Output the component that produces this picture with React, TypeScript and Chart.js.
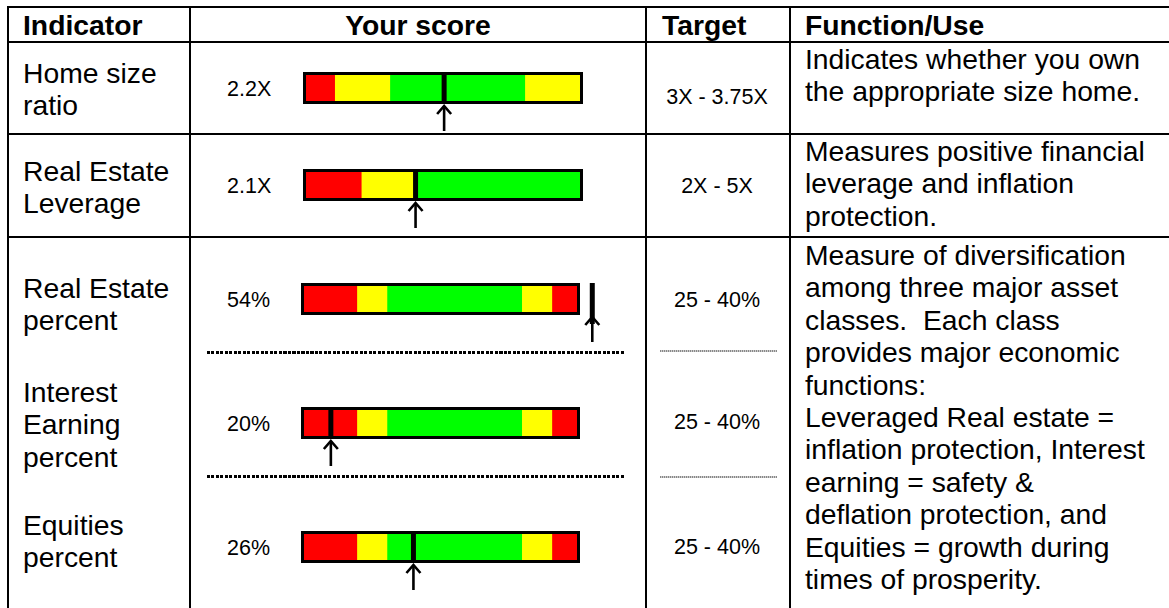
import React, { useEffect, useRef } from "react";
import { Chart, registerables } from "chart.js";

Chart.register(...registerables);

// ---------- data ----------
const headers = ["Indicator", "Your score", "Target", "Function/Use"];
const indicatorLines = [
  ["Home size", "ratio"],
  ["Real Estate", "Leverage"],
  ["Real Estate", "percent"],
  ["Interest", "Earning", "percent"],
  ["Equities", "percent"],
];
const scoreLabels = ["2.2X", "2.1X", "54%", "20%", "26%"];
// marker position along each gauge, in percent of the gauge length
const scorePositions = [50.4, 40.2, 104.4, 10.7, 40.3];
const targetLabels = ["3X - 3.75X", "2X - 5X", "25 - 40%", "25 - 40%", "25 - 40%"];
// zone widths along each gauge (percent of gauge length)
const zoneWidths = [
  [11.3, 19.7, 48.2, 20.8],
  [20.8, 19.1, 60.1],
  [20, 10.8, 48.3, 10.8, 10.1],
  [20, 10.8, 48.3, 10.8, 10.1],
  [20, 10.8, 48.3, 10.8, 10.1],
];
const zoneKinds = [
  ["red", "yellow", "green", "yellow"],
  ["red", "yellow", "green"],
  ["red", "yellow", "green", "yellow", "red"],
  ["red", "yellow", "green", "yellow", "red"],
  ["red", "yellow", "green", "yellow", "red"],
];
const functionTexts = [
  ["Indicates whether you own", "the appropriate size home."],
  ["Measures positive financial", "leverage and inflation", "protection."],
  [
    "Measure of diversification",
    "among three major asset",
    "classes.  Each class",
    "provides major economic",
    "functions:",
    "Leveraged Real estate =",
    "inflation protection, Interest",
    "earning = safety &",
    "deflation protection, and",
    "Equities = growth during",
    "times of prosperity.",
  ],
];

// ---------- styles / layout ----------
const zoneColors: Record<string, string> = { red: "#FF0000", yellow: "#FFFF00", green: "#00FF00" };
const FONT = '"Liberation Sans", Arial, Helvetica, sans-serif';
const BIG = 28.3;
const SMALL = 21.5;
const LH = 32.4;

const gaugeTops = [72, 169, 283, 407, 531];
const gaugeLefts = [303, 303, 301, 301, 301];
const gaugeWidths = [280, 280, 279, 279, 279];
const GAUGE_H = 32;
const CANVAS_LEFT = 290;
const CANVAS_W = 340;
const PAD_TOP = 4;
const PAD_BOTTOM = 36;

const scoreBaselines = [97, 194, 308, 432, 556];
const targetBaselines = [105, 194, 308, 430, 555];
const indicatorBaselines = [83, 181, 298, 402, 535];
const functionBaselines = [69, 161, 265];

function T(props: { x: number; y: number; size: number; bold?: boolean; center?: boolean; text: string }) {
  const { x, y, size, bold, center, text } = props;
  return (
    <div
      style={{
        position: "absolute",
        left: x,
        top: y - 0.8465 * size,
        fontSize: size,
        lineHeight: `${size}px`,
        fontWeight: bold ? 700 : 400,
        fontFamily: FONT,
        whiteSpace: "pre",
        color: "#000",
        transform: center ? "translateX(-50%)" : undefined,
      }}
    >
      {text}
    </div>
  );
}

function markerPlugin(idx: number) {
  return {
    id: "marker" + idx,
    afterDatasetsDraw(chart: any) {
      const { ctx, chartArea, scales } = chart;
      const { top, bottom } = chartArea;
      const x = scales.x;
      const x0 = x.getPixelForValue(0);
      const x1 = x.getPixelForValue(100);
      ctx.save();
      ctx.strokeStyle = "#000";
      ctx.lineWidth = 3;
      ctx.strokeRect(x0 + 1.5, top + 1.5, x1 - x0 - 3, bottom - top - 3);
      const v = scorePositions[idx];
      const mx = x.getPixelForValue(v);
      ctx.lineWidth = 5;
      ctx.beginPath();
      ctx.moveTo(mx, top);
      ctx.lineTo(mx, v > 100 ? bottom + 9 : bottom);
      ctx.stroke();
      ctx.lineWidth = 2.6;
      ctx.beginPath();
      ctx.moveTo(mx, bottom + 2);
      ctx.lineTo(mx, bottom + 27);
      ctx.stroke();
      ctx.lineJoin = "miter";
      ctx.beginPath();
      ctx.moveTo(mx - 7, bottom + 10);
      ctx.lineTo(mx, bottom + 2);
      ctx.lineTo(mx + 7, bottom + 10);
      ctx.stroke();
      ctx.restore();
    },
  };
}

function Gauge({ idx }: { idx: number }) {
  const ref = useRef<HTMLCanvasElement | null>(null);
  useEffect(() => {
    if (!ref.current) return;
    const chart = new Chart(ref.current, {
      type: "bar",
      data: {
        labels: [scoreLabels[idx]],
        datasets: zoneWidths[idx].map((w, i) => ({
          label: zoneKinds[idx][i],
          data: [w],
          backgroundColor: zoneColors[zoneKinds[idx][i]],
          borderWidth: 0,
          barPercentage: 1,
          categoryPercentage: 1,
        })),
      },
      options: {
        indexAxis: "y",
        responsive: false,
        animation: false,
        devicePixelRatio: 1,
        events: [],
        layout: {
          padding: {
            left: gaugeLefts[idx] - CANVAS_LEFT,
            right: CANVAS_LEFT + CANVAS_W - gaugeLefts[idx] - gaugeWidths[idx],
            top: PAD_TOP,
            bottom: PAD_BOTTOM,
          },
        },
        scales: {
          x: { type: "linear", min: 0, max: 100, stacked: true, display: false },
          y: { stacked: true, display: false },
        },
        plugins: { legend: { display: false }, tooltip: { enabled: false } },
      } as any,
      plugins: [markerPlugin(idx)],
    });
    return () => chart.destroy();
  }, [idx]);
  return (
    <canvas
      ref={ref}
      width={CANVAS_W}
      height={GAUGE_H + PAD_TOP + PAD_BOTTOM}
      style={{
        position: "absolute",
        left: CANVAS_LEFT,
        top: gaugeTops[idx] - PAD_TOP,
        width: CANVAS_W,
        height: GAUGE_H + PAD_TOP + PAD_BOTTOM,
      }}
    />
  );
}

const hLines = [6, 41, 133, 236];
const vLines = [7, 189, 645, 789];

export default function App() {
  return (
    <div
      style={{
        position: "absolute",
        left: 0,
        top: 0,
        width: 1169,
        height: 608,
        overflow: "hidden",
        background: "#fff",
        fontFamily: FONT,
      }}
    >
      {hLines.map((y, i) => (
        <div key={"h" + i} style={{ position: "absolute", left: 7, top: y, width: 1162, height: 2, background: "#000" }} />
      ))}
      {vLines.map((x, i) => (
        <div key={"v" + i} style={{ position: "absolute", left: x, top: 6, width: 2, height: 602, background: "#000" }} />
      ))}
      {[351, 475].map((y, i) => (
        <div
          key={"d" + i}
          style={{
            position: "absolute",
            left: 207,
            top: y,
            width: 418,
            height: 3,
            background: "repeating-linear-gradient(to right, #000 0px, #000 3px, transparent 3px, transparent 4.5px)",
          }}
        />
      ))}
      {[350, 476].map((y, i) => (
        <div
          key={"g" + i}
          style={{
            position: "absolute",
            left: 660,
            top: y,
            width: 117,
            height: 2,
            background: "repeating-linear-gradient(to right, #888 0px, #888 1px, #ccc 1px, #ccc 2px)",
          }}
        />
      ))}

      <T x={23} y={35} size={BIG} bold text={headers[0]} />
      <T x={418} y={35} size={BIG} bold center text={headers[1]} />
      <T x={662} y={35} size={BIG} bold text={headers[2]} />
      <T x={805} y={35} size={BIG} bold text={headers[3]} />

      {indicatorLines.map((lines, r) =>
        lines.map((ln, j) => <T key={"i" + r + "_" + j} x={23} y={indicatorBaselines[r] + j * LH} size={BIG} text={ln} />)
      )}
      {scoreLabels.map((s, r) => (
        <T key={"s" + r} x={227} y={scoreBaselines[r]} size={SMALL} text={s} />
      ))}
      {targetLabels.map((s, r) => (
        <T key={"t" + r} x={717} y={targetBaselines[r]} size={SMALL} center text={s} />
      ))}
      {functionTexts.map((lines, r) =>
        lines.map((ln, j) => <T key={"f" + r + "_" + j} x={805} y={functionBaselines[r] + j * LH} size={BIG} text={ln} />)
      )}
      {scoreLabels.map((_, i) => (
        <Gauge key={"gauge" + i} idx={i} />
      ))}
    </div>
  );
}
